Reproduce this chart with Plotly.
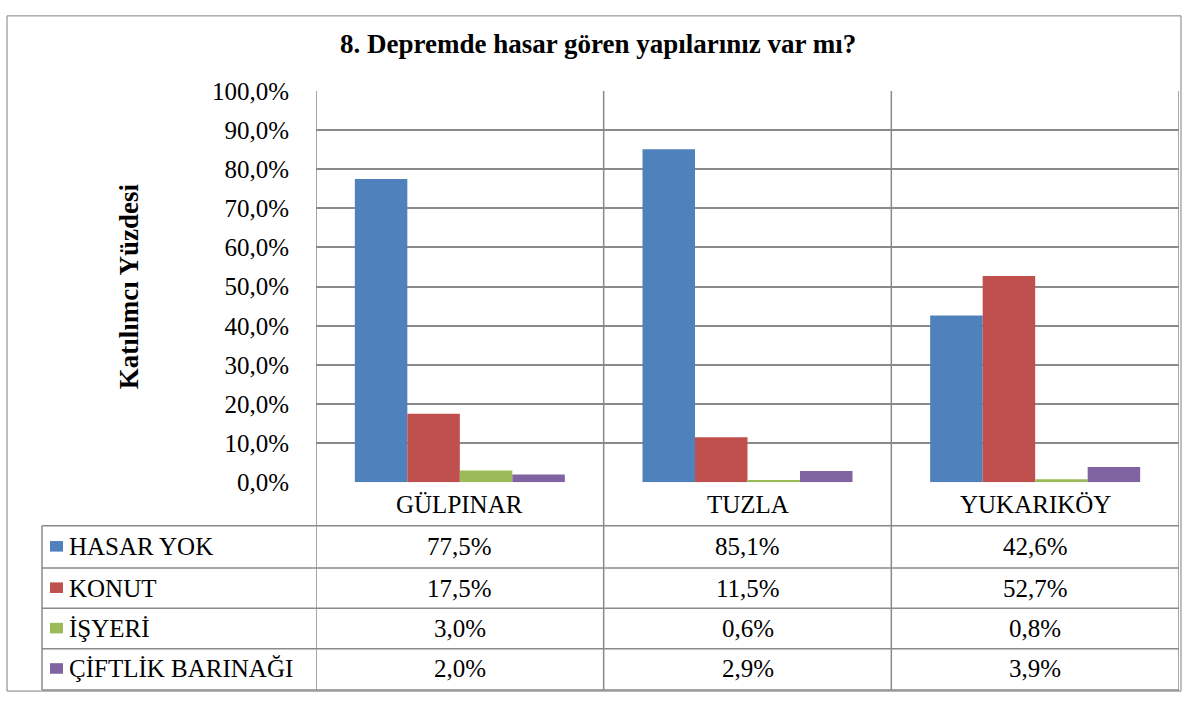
import plotly.graph_objects as go

# ---- data ----
categories = ["GÜLPINAR", "TUZLA", "YUKARIKÖY"]
series_names = ["HASAR YOK", "KONUT", "İŞYERİ", "ÇİFTLİK BARINAĞI"]
hasar_yok = [77.5, 85.1, 42.6]
konut = [17.5, 11.5, 52.7]
isyeri = [3.0, 0.6, 0.8]
ciftlik_barinagi = [2.0, 2.9, 3.9]
y_ticks = [0, 10, 20, 30, 40, 50, 60, 70, 80, 90, 100]
title_text = "8. Depremde hasar gören yapılarınız var mı?"
y_title = "Katılımcı Yüzdesi"

series_values = [hasar_yok, konut, isyeri, ciftlik_barinagi]
colors = ["#4F81BD", "#C0504D", "#9BBB59", "#8064A2"]

W, H = 1186, 707
FONT = "Liberation Serif"
LINE = "#8a8a8a"
FS = 25


def px(x):
    return x / W


def py(y):
    return 1 - y / H


def fmt(v):
    return f"{v:.1f}%".replace(".", ",")


fig = go.Figure()
for name, vals, col in zip(series_names, series_values, colors):
    fig.add_trace(go.Bar(x=categories, y=vals, name=name, marker=dict(color=col, line=dict(width=0))))

# layout geometry (pixels)
PL, PR, PT, PB = 316, 1179, 81, 488
TL = 42
row_lines = [533, 577, 619, 661, 704]
row_centers = [555, 598, 640, 682]
header_center = 510.5

fig.update_layout(
    width=W, height=H,
    margin=dict(l=0, r=0, t=0, b=0),
    paper_bgcolor="white", plot_bgcolor="white",
    showlegend=False,
    barmode="group", bargap=0.27, bargroupgap=0,
    font=dict(family=FONT, size=FS, color="black"),
    xaxis=dict(domain=[px(PL), px(PR)], type="category", range=[-0.5, 2.5],
               showticklabels=False, showgrid=False, zeroline=False, showline=False, ticks=""),
    yaxis=dict(domain=[py(PB), py(PT)], range=[0, 100], tickvals=y_ticks,
               ticktext=[fmt(v) for v in y_ticks], showgrid=True, gridcolor=LINE, gridwidth=1.5,
               zeroline=False, showline=False, ticks="", ticklabelstandoff=26,
               tickfont=dict(family=FONT, size=FS, color="black")),
)

shapes = []
# outer border
shapes.append(dict(type="rect", xref="paper", yref="paper", x0=px(7), x1=px(1181), y0=py(705), y1=py(3),
                   line=dict(color="#7f7f7f", width=1)))
# vertical lines at category boundaries
for xb in [-0.5, 0.5, 1.5, 2.5]:
    shapes.append(dict(type="line", xref="x", yref="paper", x0=xb, x1=xb, y0=py(PT), y1=py(704),
                       line=dict(color=LINE, width=1.5)))
# table horizontal lines
for yl in row_lines:
    shapes.append(dict(type="line", xref="paper", yref="paper", x0=px(TL), x1=px(PR), y0=py(yl), y1=py(yl),
                       line=dict(color=LINE, width=1.5)))
# legend column left line
shapes.append(dict(type="line", xref="paper", yref="paper", x0=px(TL), x1=px(TL), y0=py(row_lines[0]), y1=py(704),
                   line=dict(color=LINE, width=1.5)))
# legend swatches
for yc, col in zip(row_centers, colors):
    shapes.append(dict(type="rect", xref="paper", yref="paper", x0=px(50), x1=px(63), y0=py(yc + 5), y1=py(yc - 6),
                       fillcolor=col, line=dict(width=0)))

annotations = []
annotations.append(dict(text=f"<b>{title_text}</b>", xref="paper", yref="paper", x=px(598), y=py(32),
                        xanchor="center", yanchor="middle", showarrow=False,
                        font=dict(family=FONT, size=27, color="black")))
annotations.append(dict(text=f"<b>{y_title}</b>", xref="paper", yref="paper", x=px(129), y=py(284),
                        xanchor="center", yanchor="middle", showarrow=False, textangle=-90,
                        font=dict(family=FONT, size=27, color="black")))
for c in categories:
    annotations.append(dict(text=c, xref="x", yref="paper", x=c, y=py(header_center),
                            xanchor="center", yanchor="middle", showarrow=False,
                            font=dict(family=FONT, size=FS, color="black")))
for name, vals, yc in zip(series_names, series_values, row_centers):
    annotations.append(dict(text=name, xref="paper", yref="paper", x=px(67), y=py(yc),
                            xanchor="left", yanchor="middle", showarrow=False,
                            font=dict(family=FONT, size=FS, color="black")))
    for c, v in zip(categories, vals):
        annotations.append(dict(text=fmt(v), xref="x", yref="paper", x=c, y=py(yc),
                                xanchor="center", yanchor="middle", showarrow=False,
                                font=dict(family=FONT, size=FS, color="black")))

fig.update_layout(shapes=shapes, annotations=annotations)
fig.write_html(
    "out.html",
    config={"displayModeBar": False},
    post_script=(
        "document.body.style.margin='0';document.body.style.overflow='hidden';"
        "var gd=document.getElementById('{plot_id}');"
        "gd.style.position='fixed';gd.style.top='0px';gd.style.left='0px';"
    ),
)
